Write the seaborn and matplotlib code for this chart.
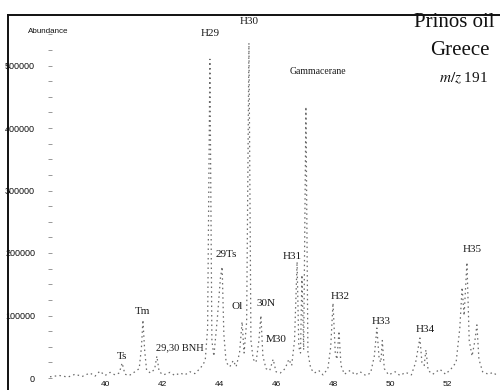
import matplotlib
matplotlib.use("Agg")
import matplotlib.pyplot as plt
import seaborn as sns
import pandas as pd

# ---- data (retention time in min, abundance) ----
rt = [38.07, 38.40, 38.70, 38.95, 39.20, 39.47, 39.65, 39.82, 40.00, 40.18,
      40.35, 40.50, 40.60, 40.70, 40.85, 41.05, 41.20, 41.28, 41.33, 41.39,
      41.46, 41.60, 41.74, 41.82, 41.90, 42.05, 42.28, 42.45, 42.63, 42.80,
      42.98, 43.15, 43.33, 43.45, 43.52, 43.60, 43.68, 43.75, 43.82, 43.95,
      44.05, 44.11, 44.17, 44.25, 44.38, 44.50, 44.60, 44.72, 44.81, 44.88,
      44.97, 45.05, 45.12, 45.20, 45.30, 45.40, 45.47, 45.54, 45.65, 45.78,
      45.90, 46.00, 46.15, 46.32, 46.45, 46.55, 46.65, 46.74, 46.80, 46.86,
      46.91, 46.97, 47.05, 47.12, 47.22, 47.35, 47.50, 47.65, 47.82, 47.92,
      48.00, 48.08, 48.14, 48.21, 48.28, 48.40, 48.60, 48.78, 48.95, 49.15,
      49.32, 49.45, 49.54, 49.62, 49.68, 49.73, 49.80, 49.95, 50.18, 50.35,
      50.55, 50.75, 50.90, 51.05, 51.12, 51.20, 51.26, 51.34, 51.50, 51.75,
      51.95, 52.15, 52.32, 52.45, 52.53, 52.60, 52.70, 52.78, 52.88, 52.98,
      53.05, 53.12, 53.25, 53.45, 53.62, 53.78]
abundance = [2000, 4000, 1500, 6000, 2500, 8000, 3000, 11000, 4000, 9000,
             5000, 8000, 24000, 6000, 4000, 10000, 15000, 50000, 93000, 45000,
             12000, 8000, 14000, 35000, 10000, 5000, 9000, 4000, 8000, 5000,
             10000, 7000, 15000, 22000, 30000, 80000, 510000, 60000, 35000, 100000,
             160000, 178000, 70000, 25000, 18000, 28000, 18000, 40000, 90000, 40000,
             90000, 536000, 60000, 30000, 25000, 60000, 100000, 35000, 15000, 12000,
             30000, 10000, 8000, 15000, 30000, 20000, 60000, 186000, 50000, 40000,
             165000, 45000, 434000, 40000, 15000, 8000, 12000, 5000, 15000, 50000,
             120000, 40000, 30000, 75000, 20000, 6000, 12000, 5000, 10000, 4000,
             8000, 35000, 80000, 30000, 25000, 60000, 15000, 5000, 10000, 4000,
             9000, 5000, 25000, 64000, 25000, 20000, 45000, 12000, 6000, 14000,
             6000, 15000, 25000, 80000, 145000, 100000, 185000, 60000, 35000, 60000,
             85000, 30000, 10000, 6000, 9000, 3000]

peak_labels = ["H29", "H30", "Gammacerane", "29Ts", "Tm", "Ts", "29,30 BNH",
               "Ol", "30N", "M30", "H31", "H32", "H33", "H34", "H35"]
label_rt = [43.68, 45.05, 47.47, 44.25, 41.33, 40.60, 42.63,
            44.63, 45.65, 46.00, 46.56, 48.25, 49.68, 51.23, 52.88]
label_ab = [552000, 571000, 490000, 198000, 107000, 34000, 48000,
            114000, 120000, 61000, 195000, 131000, 91000, 77000, 206000]
label_size = [8, 8, 7, 8, 8, 8, 7.5, 8, 8, 8, 8, 8, 8, 8, 8]

y_major = [0, 100000, 200000, 300000, 400000, 500000]
x_major = [40, 42, 44, 46, 48, 50, 52]

df = pd.DataFrame({"rt": rt, "abundance": abundance})

sns.set_theme(style="white")
plt.rcParams["font.family"] = ["Liberation Sans", "DejaVu Sans"]
plt.rcParams["mathtext.fontset"] = "stix"

fig = plt.figure(figsize=(5, 3.9), dpi=100)
rect = [8 / 500, 0.0, 1 - 8 / 500, 1 - 15 / 390]

# frame (left and top lines)
frame = fig.add_axes(rect, zorder=0)
frame.set_xticks([])
frame.set_yticks([])
for s in ["right", "bottom"]:
    frame.spines[s].set_visible(False)
for s in ["left", "top"]:
    frame.spines[s].set_color("#111111")
    frame.spines[s].set_linewidth(1.4)
frame.patch.set_alpha(0)

ax = fig.add_axes(rect, zorder=1)
ax.patch.set_alpha(0)
sns.lineplot(data=df, x="rt", y="abundance", ax=ax, estimator=None, sort=False,
             color="#6a6a6a", linewidth=0.9, linestyle=(0, (1.2, 2.6)))

ax.set_xlim(36.596, 53.86)
ax.set_ylim(-19200, 580800)

# y axis: ticks drawn inside the frame
ax.spines["left"].set_position(("data", 38.07))
ax.spines["left"].set_color("none")
ax.spines["bottom"].set_position(("data", -3000))
ax.spines["bottom"].set_color("none")
ax.spines["right"].set_visible(False)
ax.spines["top"].set_visible(False)

ax.set_yticks(y_major)
ax.set_yticklabels([str(v) for v in y_major])
ax.set_yticks([v for v in range(0, 575000, 25000) if v not in y_major], minor=True)
ax.tick_params(axis="y", which="both", direction="inout", length=2.5, width=0.6,
               color="#888888", left=True, labelsize=6.5, pad=9.5, labelcolor="#111111")
ax.set_xticks(x_major)
ax.set_xticklabels([str(v) for v in x_major])
ax.tick_params(axis="x", length=0, labelsize=6, pad=0.5, labelcolor="#111111")
ax.set_xlabel("")
ax.set_ylabel("")

ax.text(0.082, 0.955, "Abundance", transform=ax.transAxes, fontsize=5.8,
        ha="center", va="center", color="#111111")

for lab, x, y, fs in zip(peak_labels, label_rt, label_ab, label_size):
    ax.text(x, y, lab, fontsize=fs, family=["Liberation Serif", "DejaVu Serif"],
            ha="center", va="center", color="#1a1a1a")

ax.text(0.906, 0.98, "Prinos oil", transform=ax.transAxes, fontsize=15,
        family=["Liberation Serif", "DejaVu Serif"], ha="center", va="center", color="#111111")
ax.text(0.918, 0.905, "Greece", transform=ax.transAxes, fontsize=15,
        family=["Liberation Serif", "DejaVu Serif"], ha="center", va="center", color="#111111")
ax.text(0.926, 0.83, r"$m/z$ 191", transform=ax.transAxes, fontsize=11,
        family=["Liberation Serif", "DejaVu Serif"], ha="center", va="center", color="#111111")

fig.savefig("out.png", dpi=100)
